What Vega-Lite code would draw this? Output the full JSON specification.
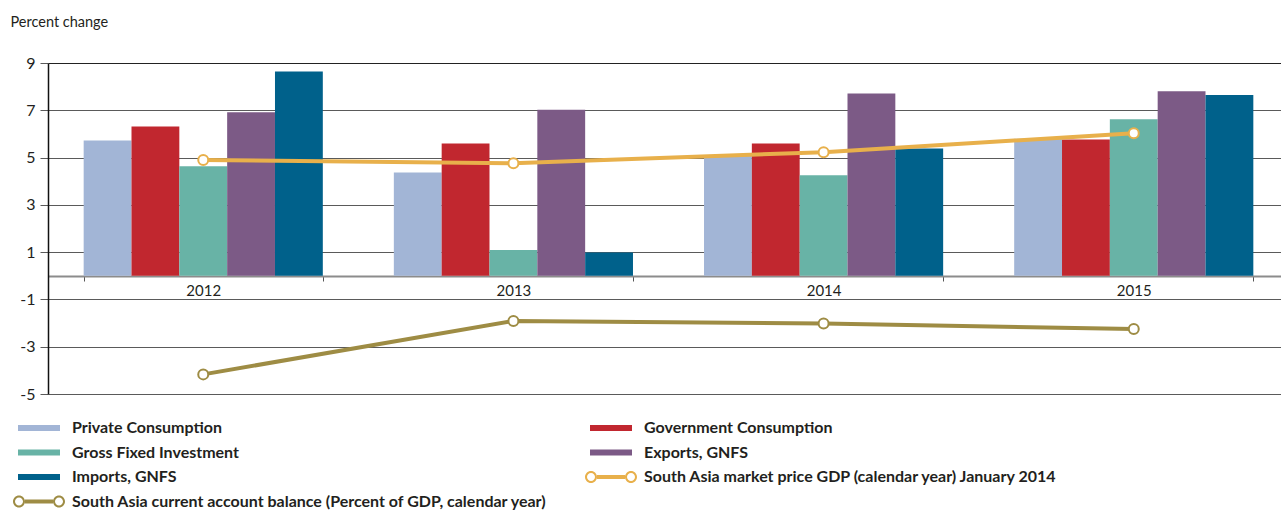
{
  "$schema": "https://vega.github.io/schema/vega-lite/v6.json",
  "width": 1241,
  "height": 331,
  "autosize": {"type": "none"},
  "padding": {"left": 48, "top": 63, "right": 0, "bottom": 118},
  "config": {
    "view": {"stroke": null},
    "font": "Lato, 'Liberation Sans', sans-serif"
  },
  "datasets": {
    "bars": [
      {"year": "2012", "series": "Private Consumption", "value": 5.72},
      {"year": "2012", "series": "Government Consumption", "value": 6.31},
      {"year": "2012", "series": "Gross Fixed Investment", "value": 4.63},
      {"year": "2012", "series": "Exports, GNFS", "value": 6.92},
      {"year": "2012", "series": "Imports, GNFS", "value": 8.64},
      {"year": "2013", "series": "Private Consumption", "value": 4.37},
      {"year": "2013", "series": "Government Consumption", "value": 5.59},
      {"year": "2013", "series": "Gross Fixed Investment", "value": 1.09},
      {"year": "2013", "series": "Exports, GNFS", "value": 7.02},
      {"year": "2013", "series": "Imports, GNFS", "value": 0.99},
      {"year": "2014", "series": "Private Consumption", "value": 5.08},
      {"year": "2014", "series": "Government Consumption", "value": 5.59},
      {"year": "2014", "series": "Gross Fixed Investment", "value": 4.25},
      {"year": "2014", "series": "Exports, GNFS", "value": 7.71},
      {"year": "2014", "series": "Imports, GNFS", "value": 5.38},
      {"year": "2015", "series": "Private Consumption", "value": 5.8},
      {"year": "2015", "series": "Government Consumption", "value": 5.76},
      {"year": "2015", "series": "Gross Fixed Investment", "value": 6.62},
      {"year": "2015", "series": "Exports, GNFS", "value": 7.8},
      {"year": "2015", "series": "Imports, GNFS", "value": 7.65}
    ],
    "lines": [
      {"year": "2012", "series": "South Asia market price GDP (calendar year) January 2014", "value": 4.9},
      {"year": "2013", "series": "South Asia market price GDP (calendar year) January 2014", "value": 4.76},
      {"year": "2014", "series": "South Asia market price GDP (calendar year) January 2014", "value": 5.23},
      {"year": "2015", "series": "South Asia market price GDP (calendar year) January 2014", "value": 6.03},
      {"year": "2012", "series": "South Asia current account balance (Percent of GDP, calendar year)", "value": -4.17},
      {"year": "2013", "series": "South Asia current account balance (Percent of GDP, calendar year)", "value": -1.91},
      {"year": "2014", "series": "South Asia current account balance (Percent of GDP, calendar year)", "value": -2.02},
      {"year": "2015", "series": "South Asia current account balance (Percent of GDP, calendar year)", "value": -2.25}
    ]
  },
  "layer": [
    {
      "data": {"name": "bars"},
      "mark": {"type": "bar"},
      "encoding": {
        "x": {
          "field": "year", "type": "nominal",
          "scale": {"paddingInner": 0.229, "paddingOuter": 0.115},
          "axis": {
            "title": null, "orient": "bottom", "offset": -118, "labelAngle": 0,
            "domainColor": "#8c8c8c", "domainWidth": 2, "tickBand": "extent",
            "tickColor": "#555555", "tickSize": 5, "tickWidth": 1,
            "labelFontSize": 15, "labelColor": "#231f20", "labelPadding": 2
          }
        },
        "xOffset": {
          "field": "series", "type": "nominal",
          "sort": ["Private Consumption", "Government Consumption", "Gross Fixed Investment", "Exports, GNFS", "Imports, GNFS"],
          "scale": {"paddingInner": 0, "paddingOuter": 0}
        },
        "y": {
          "field": "value", "type": "quantitative",
          "scale": {"domain": [-5, 9], "nice": false, "zero": false},
          "axis": {
            "values": [-5, -3, -1, 1, 3, 5, 7, 9],
            "labelExpr": "datum.value < 0 ? '-' + abs(datum.value) : '' + datum.value",
            "title": "Percent change", "titleAngle": 0, "titleAlign": "left", "titleBaseline": "alphabetic",
            "titleX": -38, "titleY": -37, "titleFontSize": 14.5, "titleFontWeight": "normal", "titleColor": "#231f20",
            "grid": true,
            "gridColor": {"condition": {"test": "datum.value === 9", "value": "#222222"}, "value": "#5a5a5a"},
            "gridWidth": 1,
            "domainColor": "#111111", "domainWidth": 1.5,
            "tickColor": "#5a5a5a", "tickSize": 8,
            "labelFontSize": 16, "labelColor": "#231f20", "labelPadding": 5
          }
        },
        "color": {
          "field": "series", "type": "nominal",
          "scale": {
            "domain": [
              "Private Consumption", "Government Consumption",
              "Gross Fixed Investment", "Exports, GNFS",
              "Imports, GNFS", "South Asia market price GDP (calendar year) January 2014",
              "South Asia current account balance (Percent of GDP, calendar year)"
            ],
            "range": ["#a2b5d6", "#c1272f", "#68b3a6", "#7c5a86", "#00618b", "#e8b04b", "#9e8c44"]
          },
          "legend": {
            "orient": "none", "legendX": -19, "legendY": 355,
            "direction": "horizontal", "columns": 2, "title": null,
            "symbolSize": 400, "labelFontSize": 16, "labelFontWeight": "bold",
            "labelColor": "#231f20", "labelLimit": 700, "labelOffset": 23,
            "rowPadding": 6.5, "columnPadding": 37, "padding": 0,
            "encode": {
              "symbols": {
                "update": {
                  "shape": {"signal": "indexof(datum.value, 'South Asia') === 0 ? 'M-1.4,0A0.6,0.6 0 1,0 -2.6,0A0.6,0.6 0 1,0 -1.4,0ZM-1.6,0A0.4,0.4 0 1,1 -2.4,0A0.4,0.4 0 1,1 -1.6,0ZM-1.4,-0.2H1.4V0.2H-1.4ZM2.6,0A0.6,0.6 0 1,0 1.4,0A0.6,0.6 0 1,0 2.6,0ZM2.4,0A0.4,0.4 0 1,1 1.6,0A0.4,0.4 0 1,1 2.4,0Z' : 'M-2.1,-0.3H2.1V0.3H-2.1Z'"},
                  "fill": {"scale": "color", "field": "value"},
                  "stroke": {"value": "transparent"},
                  "strokeWidth": {"value": 0},
                  "opacity": {"value": 1},
                  "fillOpacity": {"value": 1}
                }
              }
            }
          }
        }
      }
    },
    {
      "data": {"name": "lines"},
      "mark": {"type": "line", "strokeWidth": 4},
      "encoding": {
        "x": {"field": "year", "type": "nominal"},
        "y": {"field": "value", "type": "quantitative"},
        "color": {"field": "series", "type": "nominal"}
      }
    },
    {
      "data": {"name": "lines"},
      "mark": {"type": "point", "filled": true, "fill": "white", "strokeWidth": 2, "size": 100, "opacity": 1},
      "encoding": {
        "x": {"field": "year", "type": "nominal"},
        "y": {"field": "value", "type": "quantitative"},
        "stroke": {
          "field": "series", "type": "nominal",
          "scale": {
            "domain": ["South Asia market price GDP (calendar year) January 2014", "South Asia current account balance (Percent of GDP, calendar year)"],
            "range": ["#e8b04b", "#9e8c44"]
          },
          "legend": null
        }
      }
    }
  ]
}
